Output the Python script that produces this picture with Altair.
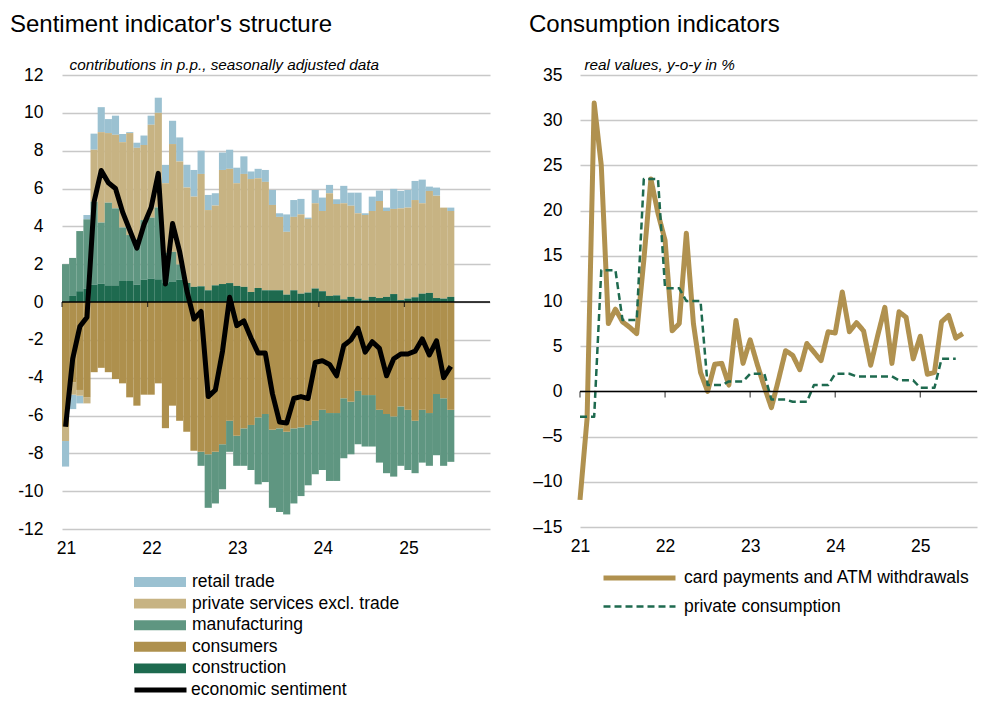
import altair as alt
import pandas as pd

FONT = "Liberation Sans"

# ---------------- left panel data (Jan 2021 .. Jul 2025, monthly) ----------------
retail = [-1.35, -0.76, -0.41, 0.23, 0.85, 1.32, 0.74, 1.01, 0.43, 0.05, 0.27, 0.50,
          0.48, 0.80, 0.97, 1.23, 1.27, 1.20, 1.41, 1.23, 0.80, 0.65, 0.92, 1.01,
          0.82, 0.93, 0.40, 0.50, 0.63, 0.79, 0.19, 0.92, 0.89, 0.82, 0.07, 0.70,
          0.71, 0.44, 0.25, 0.92, 0.69, 1.09, 0.09, 0.76, 0.55, 0.18, 1.06, 0.92,
          0.93, 1.01, 1.25, 0.23, 0.43, 0.00, 0.18]
services = [-0.75, -0.66, -0.30, -0.32, 2.75, 4.78, 3.68, 3.89, 4.51, 5.39, 4.83, 3.97,
            4.91, 5.00, 3.68, 5.70, 5.45, 5.05, 4.77, 5.94, 4.24, 4.22, 6.03, 6.04,
            5.43, 5.97, 5.97, 5.80, 5.73, 4.51, 3.88, 3.32, 3.88, 4.19, 3.89, 4.51,
            4.24, 5.43, 4.83, 5.08, 4.82, 4.51, 4.51, 4.54, 5.13, 4.54, 4.50, 4.85,
            4.81, 5.14, 4.78, 5.39, 5.41, 4.81, 4.54]
manufacturing = [1.98, 2.01, 3.18, 3.67, 4.38, 3.23, 4.37, 4.07, 2.83, 2.43, 2.40, 3.15,
                 3.22, 3.80, 1.60, 1.59, 0.80, 0.00, 0.00, -0.74, -2.83, -2.73, -2.38, -1.64,
                 -1.59, -1.98, -2.38, -3.54, -3.60, -4.13, -4.42, -4.37, -3.97, -3.63, -3.19, -2.82,
                 -3.18, -3.59, -3.59, -3.17, -2.78, -2.82, -2.72, -2.72, -2.79, -3.13, -3.18, -3.14,
                 -3.18, -2.77, -2.79, -2.79, -3.24, -3.57, -2.75]
consumers = [-6.60, -4.24, -4.65, -5.04, -3.71, -3.48, -3.71, -4.07, -4.30, -5.04, -5.48, -4.90,
             -4.90, -4.30, -6.67, -5.48, -6.28, -6.86, -7.87, -7.92, -8.05, -7.92, -7.52, -6.28,
             -7.07, -6.68, -6.50, -6.10, -5.92, -6.75, -6.68, -6.86, -6.68, -6.63, -6.50, -6.28,
             -5.70, -5.87, -5.87, -5.09, -5.27, -4.70, -4.92, -4.92, -5.70, -5.92, -6.05, -5.52,
             -5.70, -6.28, -5.70, -5.87, -4.86, -5.09, -5.70]
construction = [0.02, 0.32, 0.57, 0.70, 0.92, 0.97, 0.88, 0.88, 1.11, 1.11, 0.92, 1.18,
                1.24, 1.20, 1.00, 1.06, 1.18, 1.00, 0.80, 0.83, 0.62, 0.88, 0.95, 1.00,
                0.85, 0.80, 0.53, 0.74, 0.62, 0.62, 0.62, 0.39, 0.62, 0.44, 0.50, 0.71,
                0.57, 0.32, 0.35, 0.14, 0.27, 0.18, 0.09, 0.27, 0.21, 0.27, 0.42, 0.10,
                0.18, 0.25, 0.44, 0.48, 0.21, 0.18, 0.27]
sentiment = [-6.6, -3.0, -1.3, -0.8, 5.3, 6.95, 6.3, 6.0, 4.75, 3.8, 2.85, 4.1,
             5.0, 6.8, 0.95, 4.15, 2.65, 0.6, -0.9, -0.5, -5.0, -4.65, -2.6, 0.25,
             -1.25, -1.0, -1.9, -2.7, -2.7, -4.85, -6.35, -6.4, -5.1, -5.0, -5.1, -3.2,
             -3.1, -3.3, -3.9, -2.3, -2.0, -1.4, -2.65, -2.1, -2.45, -3.9, -3.0, -2.75,
             -2.75, -2.6, -1.95, -2.8, -2.05, -4.0, -3.4]

# ---------------- right panel data ----------------
card = [-12.0, -3.0, 31.9, 25.0, 7.5, 9.1, 7.7, 7.1, 6.4, 14.5, 23.5, 19.7,
        16.7, 6.7, 7.5, 17.5, 7.5, 2.1, 0.0, 3.0, 3.1, 0.7, 7.85, 3.1,
        5.7, 3.0, 0.5, -1.8, 1.3, 4.5, 4.0, 2.4, 5.3, 4.35, 3.4, 6.6,
        6.45, 11.0, 6.6, 7.6, 6.7, 2.9, 6.2, 9.3, 3.1, 8.8, 8.2, 3.6,
        6.1, 1.9, 2.1, 7.7, 8.4, 5.9, 6.4]
consumption = [-2.8, -2.8, -2.8, 13.4, 13.4, 13.4, 7.9, 7.9, 7.9, 23.5, 23.5, 23.5,
               11.4, 11.4, 11.4, 10.0, 10.0, 10.0, 0.7, 0.7, 0.7, 1.1, 1.1, 1.1,
               1.95, 1.95, 1.95, -0.9, -0.9, -0.9, -1.15, -1.15, -1.15, 0.7, 0.7, 0.7,
               1.95, 1.95, 1.95, 1.66, 1.66, 1.66, 1.66, 1.66, 1.66, 1.22, 1.22, 1.22,
               0.4, 0.4, 0.4, 3.6, 3.6, 3.6]

series_names = ["retail trade", "private services excl. trade", "manufacturing",
                "consumers", "construction"]
series_values = [retail, services, manufacturing, consumers, construction]
stack_rank = [4, 3, 2, 1, 0]
bar_colors = ["#9BC1D1", "#C7B383", "#5F9681", "#AE904D", "#1E6A4F"]
year_ticks = [0, 12, 24, 36, 48]

rows = []
for name, vals, rank in zip(series_names, series_values, stack_rank):
    for i, v in enumerate(vals):
        rows.append({"t": i, "t1": i + 1, "series": name, "value": v, "rank": rank})
bars_df = pd.DataFrame(rows)
line_df = pd.DataFrame({"tm": [i + 0.5 for i in range(len(sentiment))],
                        "value": sentiment,
                        "name": ["economic sentiment"] * len(sentiment)})
ticks_df = pd.DataFrame({"tk": year_ticks, "z": [0] * len(year_ticks)})
zero_df = pd.DataFrame({"z": [0]})

right_names = ["card payments and ATM withdrawals", "private consumption"]
r_rows = []
for i, v in enumerate(card):
    r_rows.append({"t": i, "value": v, "series": right_names[0]})
for i, v in enumerate(consumption):
    r_rows.append({"t": i, "value": v, "series": right_names[1]})
right_df = pd.DataFrame(r_rows)

GRID = "#C8C8C8"
LAB = 17.5

# ---------------- left chart ----------------
xl_scale = alt.Scale(domain=[0, 60], nice=False, zero=False)
yl_scale = alt.Scale(domain=[-12, 12], nice=False)
xl_axis = alt.Axis(values=year_ticks, labelExpr="'' + (21 + datum.value / 12)",
                   ticks=False, domain=False, grid=False, labelPadding=10,
                   labelOffset=4, labelFontSize=LAB, labelFont=FONT,
                   labelOverlap=False, labelFlush=False, labelColor="black", title=None)
yl_axis = alt.Axis(values=list(range(-12, 13, 2)),
                   labelExpr="datum.value < 0 ? '-' + abs(datum.value) : '' + datum.value",
                   ticks=False, domain=False, grid=True, gridColor=GRID, gridWidth=1.5,
                   labelPadding=19, labelFontSize=LAB, labelFont=FONT, labelColor="black",
                   labelOverlap=False, labelFlush=False,
                   title="contributions in p.p., seasonally adjusted data",
                   titleAngle=0, titleAlign="left", titleBaseline="alphabetic",
                   titleX=7, titleY=-6, titleFontStyle="italic",
                   titleFontWeight="normal", titleFontSize=15.3, titleFont=FONT,
                   titleColor="black")

bars = alt.Chart(bars_df).transform_stack(
    stack="value", groupby=["t"], as_=["y0", "y1"],
    sort=[alt.SortField("rank", "ascending")], offset="zero"
).mark_rect().encode(
    x=alt.X("t:Q", scale=xl_scale, axis=xl_axis), x2="t1:Q",
    y=alt.Y("y0:Q", scale=yl_scale, axis=yl_axis), y2="y1:Q",
    fill=alt.Fill("series:N", scale=alt.Scale(domain=series_names, range=bar_colors),
                  legend=alt.Legend(title=None, orient="none", legendX=72, legendY=499,
                                    symbolType="M-1,-0.19H1V0.19H-1Z", symbolSize=2704,
                                    symbolStrokeWidth=0, labelFontSize=LAB, labelFont=FONT,
                                    labelColor="black", labelOffset=6, rowPadding=3.6,
                                    clipHeight=16, padding=0, labelLimit=400))
)
zero_rule = alt.Chart(zero_df).mark_rule(color="black", strokeWidth=1.5).encode(
    y=alt.Y("z:Q", scale=yl_scale, axis=yl_axis))
zero_ticks = alt.Chart(ticks_df).mark_tick(color="black", size=5, thickness=1.2,
                                           orient="vertical", yOffset=2.5).encode(
    x=alt.X("tk:Q", scale=xl_scale, axis=xl_axis),
    y=alt.Y("z:Q", scale=yl_scale, axis=yl_axis))
sent_line = alt.Chart(line_df).mark_line(strokeWidth=5, strokeJoin="round").encode(
    x=alt.X("tm:Q", scale=xl_scale, axis=xl_axis),
    y=alt.Y("value:Q", scale=yl_scale, axis=yl_axis),
    stroke=alt.Stroke("name:N", scale=alt.Scale(range=["black"]),
                      legend=alt.Legend(title=None, orient="none", legendX=70, legendY=607,
                                        symbolType="stroke", symbolSize=2704,
                                        symbolStrokeWidth=5, labelFontSize=LAB,
                                        labelFont=FONT, labelColor="black", labelOffset=2,
                                        clipHeight=16, padding=0, labelLimit=400))
)

left = alt.layer(bars, zero_rule, zero_ticks, sent_line).properties(
    width=428, height=454,
    title=alt.TitleParams("Sentiment indicator's structure", anchor="start", frame="group",
                          dx=-52, fontSize=24, font=FONT, fontWeight="normal",
                          color="black", offset=20)
)

# ---------------- right chart ----------------
xr_scale = alt.Scale(domain=[0, 56], nice=False, zero=False)
yr_scale = alt.Scale(domain=[-15, 35], nice=False)
xr_axis = alt.Axis(values=year_ticks, labelExpr="'' + (21 + datum.value / 12)",
                   ticks=False, domain=False, grid=False, labelPadding=10,
                   labelOverlap=False, labelFlush=False,
                   labelFontSize=LAB, labelFont=FONT, labelColor="black", title=None)
yr_axis = alt.Axis(values=list(range(-15, 36, 5)),
                   labelExpr="datum.value < 0 ? '\u2013' + abs(datum.value) : '' + datum.value",
                   ticks=False, domain=False, grid=True, gridColor=GRID, gridWidth=1.5,
                   labelPadding=18, labelFontSize=LAB, labelFont=FONT, labelColor="black",
                   labelOverlap=False, labelFlush=False,
                   title="real values, y-o-y in %",
                   titleAngle=0, titleAlign="left", titleBaseline="alphabetic",
                   titleX=4, titleY=-6, titleFontStyle="italic",
                   titleFontWeight="normal", titleFontSize=15.3, titleFont=FONT,
                   titleColor="black")
r_leg = alt.Legend(title=None, orient="none", legendX=21, legendY=495,
                   symbolType="stroke", symbolSize=5184, labelFontSize=LAB, labelFont=FONT,
                   labelColor="black", labelOffset=6, rowPadding=10.5, clipHeight=16,
                   padding=0, labelLimit=400)
r_lines = alt.Chart(right_df).mark_line(strokeJoin="round").encode(
    x=alt.X("t:Q", scale=xr_scale, axis=xr_axis),
    y=alt.Y("value:Q", scale=yr_scale, axis=yr_axis),
    stroke=alt.Stroke("series:N", scale=alt.Scale(domain=right_names,
                                                  range=["#B0914F", "#1E6A4F"]), legend=r_leg),
    strokeDash=alt.StrokeDash("series:N", scale=alt.Scale(domain=right_names,
                                                          range=[[1, 0], [7, 4]]), legend=r_leg),
    strokeWidth=alt.StrokeWidth("series:N", scale=alt.Scale(domain=right_names,
                                                            range=[5, 2.5]), legend=r_leg),
)
r_zero = alt.Chart(zero_df).mark_rule(color="black", strokeWidth=1.5).encode(
    y=alt.Y("z:Q", scale=yr_scale, axis=yr_axis))
r_ticks = alt.Chart(ticks_df).mark_tick(color="black", size=6, thickness=1.2,
                                        orient="vertical", yOffset=3).encode(
    x=alt.X("tk:Q", scale=xr_scale, axis=xr_axis),
    y=alt.Y("z:Q", scale=yr_scale, axis=yr_axis))

right = alt.layer(r_lines, r_zero, r_ticks).properties(
    width=397, height=452,
    title=alt.TitleParams("Consumption indicators", anchor="start", frame="group",
                          dx=-51, fontSize=24, font=FONT, fontWeight="normal",
                          color="black", offset=20)
)

chart = alt.hconcat(left, right, spacing=38).resolve_scale(
    stroke="independent", strokeDash="independent", strokeWidth="independent",
    fill="independent"
).resolve_legend(
    stroke="independent", strokeDash="independent", strokeWidth="independent",
    fill="independent"
).properties(
    padding={"left": 2, "top": 5, "right": 0, "bottom": 0}
).configure(font=FONT).configure_view(stroke=None)

chart.save("out.html", embed_options={"renderer": "svg", "actions": False})
